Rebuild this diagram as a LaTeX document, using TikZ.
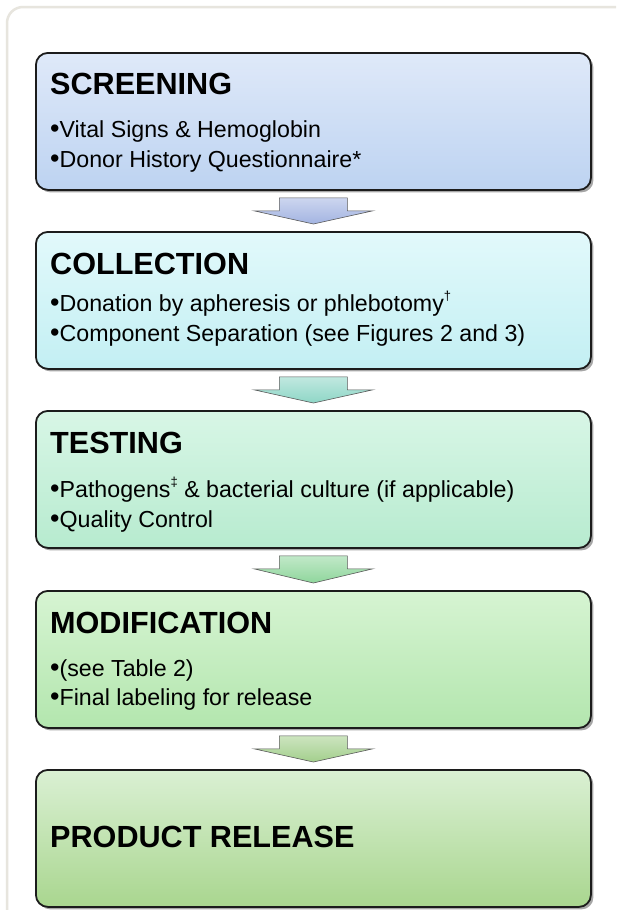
\documentclass[tikz,border=0pt]{standalone}
\usepackage{fontspec}
\setmainfont{Liberation Sans}
\usetikzlibrary{calc,shadows}

% stage colours (top / bottom of each gradient)
\definecolor{scrTop}{HTML}{DFE9F9}
\definecolor{scrBot}{HTML}{BDD3F1}
\definecolor{colTop}{HTML}{E2F9FB}
\definecolor{colBot}{HTML}{C3EFF3}
\definecolor{tstTop}{HTML}{D8F6E6}
\definecolor{tstBot}{HTML}{B7EBCF}
\definecolor{modTop}{HTML}{D6F4D2}
\definecolor{modBot}{HTML}{B3E6AE}
\definecolor{relTop}{HTML}{DAF0D3}
\definecolor{relBot}{HTML}{A9D68F}
\definecolor{arrA}{HTML}{A3B4E2}
\definecolor{arrB}{HTML}{8ED6C6}
\definecolor{arrC}{HTML}{8FD69C}
\definecolor{arrD}{HTML}{A3CF8C}
\definecolor{frameLine}{HTML}{E7E5DE}
\definecolor{edge}{HTML}{1C1C1C}

\tikzset{
  stagebox/.style={draw=edge, line width=1.8pt, rounded corners=12pt,
    minimum width=555pt, minimum height=137pt, inner sep=0pt,
    anchor=north west,
    drop shadow={shadow xshift=2.5pt, shadow yshift=-2.5pt, opacity=0.35, fill=black}},
  stagetitle/.style={anchor=base west, inner sep=0pt,
    font=\fontsize{30.6}{30.6}\selectfont\bfseries},
  stageitem/.style={anchor=base west, inner sep=0pt,
    font=\fontsize{23.2}{23.2}\selectfont},
  flowarrow/.style={draw=black!65, line width=0.6pt, line join=miter},
}

% list bullet and raised footnote mark
\newcommand{\itemdot}{{\fontsize{27}{27}\selectfont •}}
\newcommand{\fnmark}[1]{\raisebox{0.45em}{\fontsize{13}{13}\selectfont #1}}

% block arrow from the bottom of one stage to the top of the next
\newcommand{\flowstep}[3]{%
  \path[flowarrow, top color=#3!55, bottom color=#3]
    ($(#1.south)+(-34,7)$) -- ($(#1.south)+(34,7)$) -- ($(#1.south)+(34,20)$)
    -- ($(#1.south)+(59.5,20)$) -- ($(#2.north)+(0,-7)$)
    -- ($(#1.south)+(-59.5,20)$) -- ($(#1.south)+(-34,20)$) -- cycle;}

\begin{document}
\begin{tikzpicture}[x=1pt, y=-1pt]
\useasboundingbox (0,0) rectangle (616,910);
\fill[white] (0,0) rectangle (616,910);

% outer panel frame, running off the right and lower edges
\begin{scope}
  \clip (0,0) rectangle (616,910);
  \draw[frameLine, line width=2.5pt, rounded corners=16pt] (7,7) rectangle (660,960);
\end{scope}

% stages
\node[stagebox, top color=scrTop, bottom color=scrBot] (b1) at (35,52) {};
\node[stagebox, top color=colTop, bottom color=colBot] (b2) at (35,231) {};
\node[stagebox, top color=tstTop, bottom color=tstBot] (b3) at (35,410) {};
\node[stagebox, top color=modTop, bottom color=modBot] (b4) at (35,590) {};
\node[stagebox, top color=relTop, bottom color=relBot] (b5) at (35,769) {};

% arrows between stages
\flowstep{b1}{b2}{arrA}
\flowstep{b2}{b3}{arrB}
\flowstep{b3}{b4}{arrC}
\flowstep{b4}{b5}{arrD}

% texts
\node[stagetitle] (t1) at ($(b1.north west)+(15,42)$) {SCREENING};
\node[stageitem] (t1a) at ($(b1.north west)+(15,85)$) {\itemdot Vital Signs \& Hemoglobin};
\node[stageitem] (t1b) at ($(b1.north west)+(15,115)$) {\itemdot Donor History Questionnaire*};

\node[stagetitle] (t2) at ($(b2.north west)+(15,43)$) {COLLECTION};
\node[stageitem] (t2a) at ($(b2.north west)+(15,80)$) {\itemdot Donation by apheresis or phlebotomy\fnmark{†}};
\node[stageitem] (t2b) at ($(b2.north west)+(15,110)$) {\itemdot Component Separation (see Figures 2 and 3)};

\node[stagetitle] (t3) at ($(b3.north west)+(15,43)$) {TESTING};
\node[stageitem] (t3a) at ($(b3.north west)+(15,87)$) {\itemdot Pathogens\fnmark{‡} \& bacterial culture (if applicable)};
\node[stageitem] (t3b) at ($(b3.north west)+(15,117)$) {\itemdot Quality Control};

\node[stagetitle] (t4) at ($(b4.north west)+(15,43)$) {MODIFICATION};
\node[stageitem] (t4a) at ($(b4.north west)+(15,86)$) {\itemdot(see Table 2)};
\node[stageitem] (t4b) at ($(b4.north west)+(15,115)$) {\itemdot Final labeling for release};

\node[stagetitle] (t5) at ($(b5.north west)+(15,78)$) {PRODUCT RELEASE};
\end{tikzpicture}
\end{document}
